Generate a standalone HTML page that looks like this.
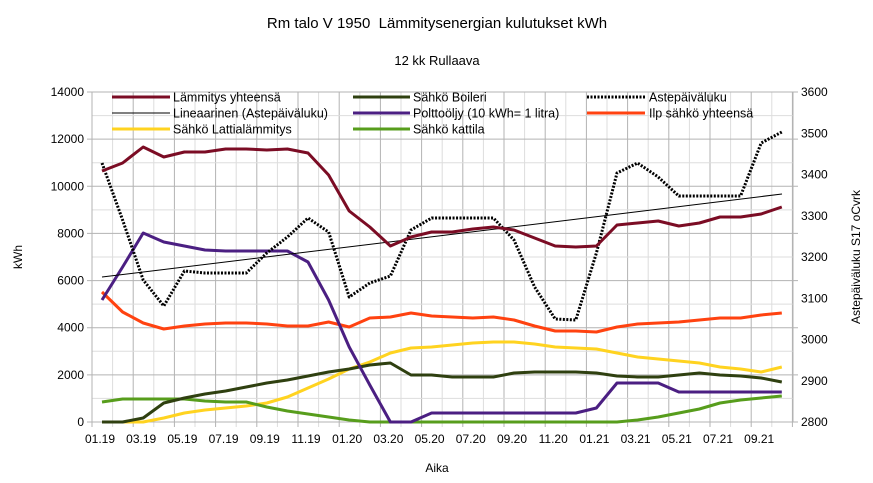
<!DOCTYPE html>
<html><head><meta charset="utf-8"><style>
html,body{margin:0;padding:0;background:#fff}
svg{display:block;font-family:"Liberation Sans",sans-serif}
</style></head><body>
<svg width="873" height="483" viewBox="0 0 873 483" xmlns="http://www.w3.org/2000/svg">
<rect width="873" height="483" fill="#fff"/>
<text x="437" y="28" font-size="15" text-anchor="middle" style="white-space:pre">Rm talo V 1950&#160; Lämmitysenergian kulutukset kWh</text>
<text x="437" y="65" font-size="13" text-anchor="middle">12 kk Rullaava</text>
<g id="grid" stroke-width="1"></g>
<rect x="92" y="92" width="701" height="330" fill="none" stroke="#b3b3b3"/>
<g id="labels" font-size="12"></g>
<text x="22" y="257" font-size="12" text-anchor="middle" transform="rotate(-90 22 257)">kWh</text>
<text x="860" y="257" font-size="12" text-anchor="middle" transform="rotate(-90 860 257)">Astepäiväluku S17 oCvrk</text>
<text x="437" y="472" font-size="12" text-anchor="middle">Aika</text>
<g id="series" fill="none" stroke-linejoin="round"></g>
<g font-size="12.5">
<line x1="112" y1="97" x2="170" y2="97" stroke="#7b0c24" stroke-width="3"/><text x="173" y="101.5">Lämmitys yhteensä</text>
<line x1="353" y1="97" x2="410" y2="97" stroke="#2f4010" stroke-width="3"/><text x="413" y="101.5">Sähkö Boileri</text>
<line x1="587" y1="97" x2="645" y2="97" stroke="#000" stroke-width="3" stroke-dasharray="2,1.5"/><text x="649" y="101.5">Astepäiväluku</text>
<line x1="112" y1="113" x2="170" y2="113" stroke="#000" stroke-width="1"/><text x="173" y="117.5">Lineaarinen (Astepäiväluku)</text>
<line x1="353" y1="113" x2="410" y2="113" stroke="#4b1f82" stroke-width="3"/><text x="413" y="117.5">Polttoöljy (10 kWh= 1 litra)</text>
<line x1="587" y1="113" x2="645" y2="113" stroke="#ff4210" stroke-width="3"/><text x="649" y="117.5">Ilp sähkö yhteensä</text>
<line x1="112" y1="129" x2="170" y2="129" stroke="#ffd320" stroke-width="3"/><text x="173" y="133.5">Sähkö Lattialämmitys</text>
<line x1="353" y1="129" x2="410" y2="129" stroke="#579d1c" stroke-width="3"/><text x="413" y="133.5">Sähkö kattila</text>
</g>
<script>
var ns="http://www.w3.org/2000/svg";
function el(p,t,a,txt){var e=document.createElementNS(ns,t);for(var k in a)e.setAttribute(k,a[k]);if(txt!=null)e.textContent=txt;p.appendChild(e);return e;}
var g=document.getElementById('grid'),L=document.getElementById('labels'),S=document.getElementById('series');
var sx=20.6;
for(var i=0;i<=34;i++){var x=92+i*sx;el(g,'line',{x1:x,y1:92,x2:x,y2:427,stroke:i%2==0?'#b3b3b3':'#dddddd'});}
for(var v=0;v<=14000;v+=1000){var y=422-v*330/14000;el(g,'line',{x1:v%2000==0?87:92,y1:y,x2:v%2000==0?798:793,y2:y,stroke:v%2000==0?'#b3b3b3':'#dddddd'});
 if(v%2000==0)el(L,'text',{x:84,y:y+4,'text-anchor':'end'},v);}
for(var r=0;r<=8;r++){var y=422-r*41.25;el(L,'text',{x:801,y:y+4},2800+r*100);}
var mon=['01','03','05','07','09','11'];
for(var i=0;i<34;i+=2){var m=i%12, yr=19+Math.floor(i/12);el(L,'text',{x:102+i*sx-2,y:443,'text-anchor':'middle'},mon[m/2]+'.'+yr);}
function line(ys,col,w,dash){var pts=ys.map(function(y,i){return (102+i*sx).toFixed(1)+','+y;}).join(' ');var a={points:pts,stroke:col,'stroke-width':w};if(dash)a['stroke-dasharray']=dash;el(S,'polyline',a);}
line([422,422,422,418,413,410,408,406,403,397,388,379,369,362,353,348,347,345,343,342,342,344,347,348,349,353,357,359,361,363,367,369,372,367],'#ffd320',3);
line([402,399,399,399,399,401,402,402,407,411,414,417,420,422,422,422,422,422,422,422,422,422,422,422,422,422,420,417,413,409,403,400,398,396],'#579d1c',3);
line([422,422,418,403,398,394,391,387,383,380,376,372,369,365,363,375,375,377,377,377,373,372,372,372,373,376,377,377,375,373,375,376,378,382],'#2f4010',3);
line([292,312,323,329,326,324,323,323,324,326,326,322,327,318,317,313,316,317,318,317,320,326,331,331,332,327,324,323,322,320,318,318,315,313],'#ff4210',3);
line([300,267,233,242,246,250,251,251,251,251,262,300,347,385,422,422,413,413,413,413,413,413,413,413,408,383,383,383,392,392,392,392,392,392],'#4b1f82',3);
line([163,220,280,306,271,273,273,273,253,237,218,232,297,283,276,230,218,218,218,218,240,287,319,320,253,173,163,177,196,196,196,196,143,132],'#000',3,'2,1.5');
el(S,'line',{x1:102,y1:277,x2:782,y2:194,stroke:'#000','stroke-width':1});
line([171,163,147,157,152,152,149,149,150,149,153,175,211,227,246,237,232,232,229,227,230,238,246,247,246,225,223,221,226,223,217,217,214,207],'#7b0c24',3);
</script>
</svg>
</body></html>
